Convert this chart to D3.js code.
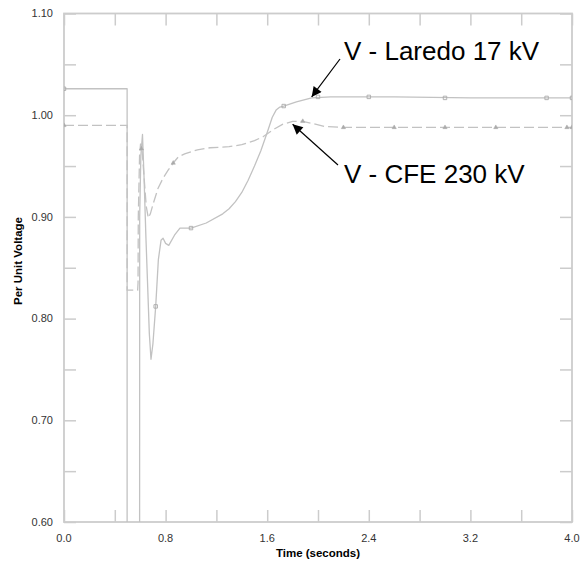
<!DOCTYPE html>
<html><head><meta charset="utf-8">
<script src="https://cdn.jsdelivr.net/npm/d3@7/dist/d3.min.js"></script>
<style>body{margin:0;background:#fff}svg{display:block}</style>
</head><body>
<svg id="chart" width="582" height="566"></svg>
<script>
// Data (time in seconds, per-unit voltage)
const laredoT = [0,0.497,0.497,0.595,0.596,0.605,0.618,0.63,0.645,0.657,0.672,0.685,0.70,0.722,0.743,0.764,0.78,0.80,0.825,0.87,0.913,1.0,1.12,1.25,1.30,1.35,1.40,1.45,1.50,1.55,1.60,1.64,1.67,1.70,1.73,1.83,1.95,2.1,2.6,3.2,4.0];
const laredoV = [1.026,1.026,0.40,0.40,0.90,0.96,0.981,0.94,0.88,0.838,0.785,0.760,0.775,0.812,0.858,0.877,0.879,0.874,0.872,0.882,0.889,0.889,0.894,0.903,0.908,0.915,0.924,0.936,0.950,0.965,0.983,0.998,1.005,1.008,1.009,1.013,1.017,1.018,1.018,1.017,1.017];
const cfeT = [0,0.497,0.497,0.58,0.583,0.585,0.595,0.603,0.615,0.63,0.648,0.664,0.68,0.70,0.74,0.78,0.82,0.86,0.90,0.95,1.05,1.15,1.30,1.40,1.50,1.57,1.65,1.72,1.80,1.88,1.95,2.05,2.2,4.0];
const cfeV = [0.99,0.99,0.828,0.828,0.835,0.90,0.96,0.972,0.965,0.94,0.91,0.899,0.903,0.912,0.928,0.938,0.946,0.953,0.959,0.962,0.966,0.968,0.969,0.971,0.975,0.979,0.986,0.991,0.994,0.994,0.992,0.989,0.988,0.988];
const laredoMarkT = [0,0.722,1.0,1.73,2.0,2.4,3.0,3.8,4.0];
const laredoMarkV = [1.026,0.812,0.889,1.009,1.018,1.018,1.017,1.017,1.017];
const cfeMarkT = [0,0.61,0.86,1.88,2.2,2.6,3.0,3.4,3.96,4.0];
const cfeMarkV = [0.99,0.967,0.953,0.994,0.988,0.988,0.988,0.988,0.988,0.988];
const xTicks = [0,0.4,0.8,1.2,1.6,2.0,2.4,2.8,3.2,3.6,4.0];
const xTickLabels = ["0.0","","0.8","","1.6","","2.4","","3.2","","4.0"];
const yTicks = [0.60,0.65,0.70,0.75,0.80,0.85,0.90,0.95,1.00,1.05,1.10];
const yTickLabels = ["0.60","","0.70","","0.80","","0.90","","1.00","","1.10"];
const seriesNames = ["V - Laredo 17 kV","V - CFE 230 kV"];

const svg = d3.select("#chart");
const L = 64, R = 572, T = 13.5, B = 522;
const x = d3.scaleLinear().domain([0,4]).range([L,R]);
const y = d3.scaleLinear().domain([0.6,1.1]).range([B,T]);
const frameCol = "#cccccc";
const lineCol = "#c2c2c2";
const font = "'Liberation Sans', Arial, sans-serif";

svg.append("defs").append("clipPath").attr("id","clip")
  .append("rect").attr("x",L).attr("y",T).attr("width",R-L).attr("height",B-T);
svg.select("defs").append("marker").attr("id","arrow")
  .attr("viewBox","0 0 10 10").attr("refX",10).attr("refY",5)
  .attr("markerWidth",12).attr("markerHeight",10).attr("markerUnits","userSpaceOnUse")
  .attr("orient","auto")
  .append("path").attr("d","M0,0 L10,5 L0,10 Z").attr("fill","#000");

// ticks (inside, on all four sides) using axis generators
const tl = 12;
const axB = d3.axisTop(x).tickValues(xTicks).tickSize(tl).tickFormat("");
const axT = d3.axisBottom(x).tickValues(xTicks).tickSize(tl).tickFormat("");
const axLf = d3.axisRight(y).tickValues(yTicks).tickSize(tl).tickFormat("");
const axRt = d3.axisLeft(y).tickValues(yTicks).tickSize(tl).tickFormat("");
[[axB,`translate(0,${B})`],[axT,`translate(0,${T})`],[axLf,`translate(${L},0)`],[axRt,`translate(${R},0)`]].forEach(([a,t])=>{
  const g = svg.append("g").attr("transform",t).call(a);
  g.select(".domain").remove();
  g.selectAll("line").attr("stroke",frameCol).attr("stroke-width",1.5);
});
svg.append("rect").attr("x",L).attr("y",T).attr("width",R-L).attr("height",B-T)
  .attr("fill","none").attr("stroke",frameCol).attr("stroke-width",1.8);

// tick labels
svg.append("g").selectAll("text").data(xTicks).join("text")
  .attr("x",d=>x(d)).attr("y",542).attr("text-anchor","middle")
  .attr("font-family",font).attr("font-size",11).attr("fill","#333")
  .text((d,i)=>xTickLabels[i]);
svg.append("g").selectAll("text").data(yTicks).join("text")
  .attr("x",53).attr("y",d=>y(d)).attr("dy","0.35em").attr("text-anchor","end")
  .attr("font-family",font).attr("font-size",11).attr("fill","#333")
  .text((d,i)=>yTickLabels[i]);

// axis titles
svg.append("text").attr("x",(L+R)/2).attr("y",557).attr("text-anchor","middle")
  .attr("font-family",font).attr("font-size",11.5).attr("font-weight","bold").attr("fill","#000")
  .text("Time (seconds)");
svg.append("text").attr("transform","translate(22,261) rotate(-90)").attr("text-anchor","middle")
  .attr("font-family",font).attr("font-size",11.5).attr("font-weight","bold").attr("fill","#000")
  .text("Per Unit Voltage");

// lines
const line = d3.line().x(d=>x(d[0])).y(d=>y(d[1]));
const plot = svg.append("g").attr("clip-path","url(#clip)");
plot.append("path").datum(laredoT.map((t,i)=>[t,laredoV[i]])).attr("d",line)
  .attr("fill","none").attr("stroke",lineCol).attr("stroke-width",1.3).attr("stroke-linejoin","round");
plot.append("path").datum(cfeT.map((t,i)=>[t,cfeV[i]])).attr("d",line)
  .attr("fill","none").attr("stroke",lineCol).attr("stroke-width",1.3)
  .attr("stroke-dasharray","10,4");

// markers
const sq = d3.symbol().type(d3.symbolSquare).size(12);
const tri = d3.symbol().type(d3.symbolTriangle).size(8);
plot.append("g").selectAll("path").data(laredoMarkT.map((t,i)=>[t,laredoMarkV[i]])).join("path")
  .attr("transform",d=>`translate(${x(d[0])},${y(d[1])})`).attr("d",sq)
  .attr("fill","none").attr("stroke","#aaa").attr("stroke-width",0.9);
plot.append("g").selectAll("path").data(cfeMarkT.map((t,i)=>[t,cfeMarkV[i]])).join("path")
  .attr("transform",d=>`translate(${x(d[0])},${y(d[1])})`).attr("d",tri)
  .attr("fill","#aaa").attr("stroke","#aaa").attr("stroke-width",0.5);

// annotations
svg.append("text").attr("x",344).attr("y",60).attr("font-family",font).attr("font-size",26)
  .attr("fill","#000").text(seriesNames[0]);
svg.append("text").attr("x",344).attr("y",183).attr("font-family",font).attr("font-size",26)
  .attr("fill","#000").text(seriesNames[1]);
svg.append("line").attr("x1",340).attr("y1",59).attr("x2",x(1.95)).attr("y2",y(1.017)-1)
  .attr("stroke","#000").attr("stroke-width",1.2).attr("marker-end","url(#arrow)");
svg.append("line").attr("x1",338).attr("y1",165).attr("x2",x(1.80)).attr("y2",y(0.994)+3)
  .attr("stroke","#000").attr("stroke-width",1.2).attr("marker-end","url(#arrow)");
</script>
</body></html>
